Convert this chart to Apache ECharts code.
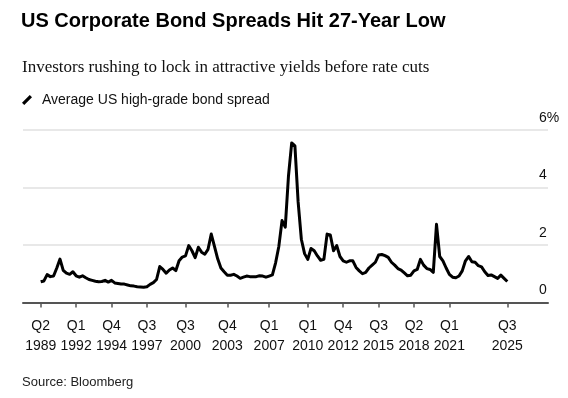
<!DOCTYPE html>
<html>
<head>
<meta charset="utf-8">
<script src="https://cdn.jsdelivr.net/npm/echarts@6/dist/echarts.min.js"></script>
<style>
html,body{margin:0;padding:0;background:#fff;}
#chart{width:568px;height:398px;}
</style>
</head>
<body>
<div id="chart"></div>
<script>
// Quarterly series, Q2 1989 .. Q3 2025 (index 0..145)
var startYear = 1989;
var startQuarter = 2;
var spreadValues = [
  0.72,0.75,0.97,0.90,0.92,1.20,1.51,1.12,1.02,0.98,
  1.07,0.93,0.88,0.93,0.86,0.80,0.77,0.74,0.72,0.73,
  0.77,0.71,0.77,0.68,0.66,0.64,0.64,0.61,0.58,0.57,
  0.55,0.54,0.53,0.55,0.63,0.69,0.80,1.25,1.15,1.02,
  1.13,1.20,1.11,1.45,1.58,1.62,1.98,1.80,1.56,1.92,
  1.75,1.68,1.85,2.38,1.95,1.52,1.20,1.07,0.95,0.95,
  0.98,0.92,0.84,0.88,0.92,0.90,0.90,0.90,0.93,0.92,
  0.88,0.92,0.96,1.38,1.95,2.85,2.62,4.40,5.55,5.45,
  3.50,2.20,1.70,1.50,1.88,1.80,1.62,1.47,1.50,2.38,
  2.35,1.80,1.98,1.60,1.45,1.40,1.45,1.45,1.22,1.10,
  1.00,1.05,1.20,1.30,1.40,1.65,1.67,1.63,1.57,1.40,
  1.30,1.18,1.13,1.03,0.93,0.95,1.10,1.15,1.50,1.30,
  1.18,1.15,1.05,2.72,1.60,1.45,1.20,0.98,0.88,0.86,
  0.92,1.10,1.45,1.60,1.42,1.40,1.28,1.24,1.07,0.94,
  0.96,0.90,0.84,0.95,0.84,0.73
];
var xTickIndices = [0,11,22,33,45,58,71,83,94,105,116,127,145];
var xTickLabels = ['Q2\n1989','Q1\n1992','Q4\n1994','Q3\n1997','Q3\n2000','Q4\n2003','Q1\n2007','Q1\n2010','Q4\n2012','Q3\n2015','Q2\n2018','Q1\n2021','Q3\n2025'];
var yTickValues = [0,2,4,6];
var yTickLabels = ['0','2','4','6%'];
var seriesName = 'Average US high-grade bond spread';

var quarterNames = [];
for (var i = 0; i < spreadValues.length; i++) {
  var q = (startQuarter - 1 + i);
  quarterNames.push('Q' + (q % 4 + 1) + ' ' + (startYear + Math.floor(q / 4)));
}
var seriesData = spreadValues.map(function (v, i) { return [i, v]; });

var font = '"Liberation Sans", Arial, sans-serif';
var chart = echarts.init(document.getElementById('chart'), null, {renderer: 'canvas'});
chart.setOption({
  animation: false,
  backgroundColor: '#fff',
  textStyle: {fontFamily: font},
  title: [
    {text: 'US Corporate Bond Spreads Hit 27-Year Low', left: 16, top: 6,
     textStyle: {fontFamily: font, fontSize: 20, fontWeight: 'bold', color: '#000'}},
    {text: 'Investors rushing to lock in attractive yields before rate cuts', left: 17, top: 54,
     textStyle: {fontFamily: '"Liberation Serif", "Times New Roman", serif', fontSize: 17, fontWeight: 'normal', color: '#111'}},
    {text: 'Source: Bloomberg', left: 17, top: 371,
     textStyle: {fontFamily: font, fontSize: 13, fontWeight: 'normal', color: '#222'}}
  ],
  legend: {
    left: 17, top: 88,
    itemWidth: 10, itemHeight: 11,
    icon: 'path://M0,9 L7,2 L9,4 L2,11 Z',
    itemStyle: {color: '#000'},
    textStyle: {fontFamily: font, fontSize: 14, color: '#111', padding: [0,0,0,5]},
    data: [seriesName]
  },
  grid: {left: 23, right: 20, top: 130, bottom: 95.5, containLabel: false},
  xAxis: {
    type: 'value',
    min: -5.5, max: 157.65,
    splitLine: {show: false},
    axisLine: {show: true, lineStyle: {color: '#555', width: 2}},
    axisTick: {show: true, customValues: xTickIndices, length: 5, lineStyle: {color: '#555', width: 1.5}},
    axisLabel: {
      show: true, customValues: xTickIndices, margin: 14,
      fontFamily: font, fontSize: 14, lineHeight: 20, color: '#111',
      formatter: function (v) {
        var k = xTickIndices.indexOf(Math.round(v));
        return k >= 0 ? xTickLabels[k] : '';
      }
    }
  },
  yAxis: {
    type: 'value',
    position: 'right',
    min: 0, max: 6, interval: 2,
    axisLine: {show: false},
    axisTick: {show: false},
    splitLine: {show: true, lineStyle: {color: '#e0e0e0', width: 1.5}},
    axisLabel: {
      margin: -9, align: 'left', verticalAlign: 'bottom', padding: [0,0,5,0],
      fontFamily: font, fontSize: 14, color: '#111',
      formatter: function (v) {
        var k = yTickValues.indexOf(v);
        return k >= 0 ? yTickLabels[k] : '';
      }
    }
  },
  series: [{
    name: seriesName,
    type: 'line',
    data: seriesData,
    showSymbol: false,
    symbol: 'none',
    lineStyle: {color: '#000', width: 3, join: 'round'},
    itemStyle: {color: '#000'}
  }]
});
</script>
</body>
</html>
